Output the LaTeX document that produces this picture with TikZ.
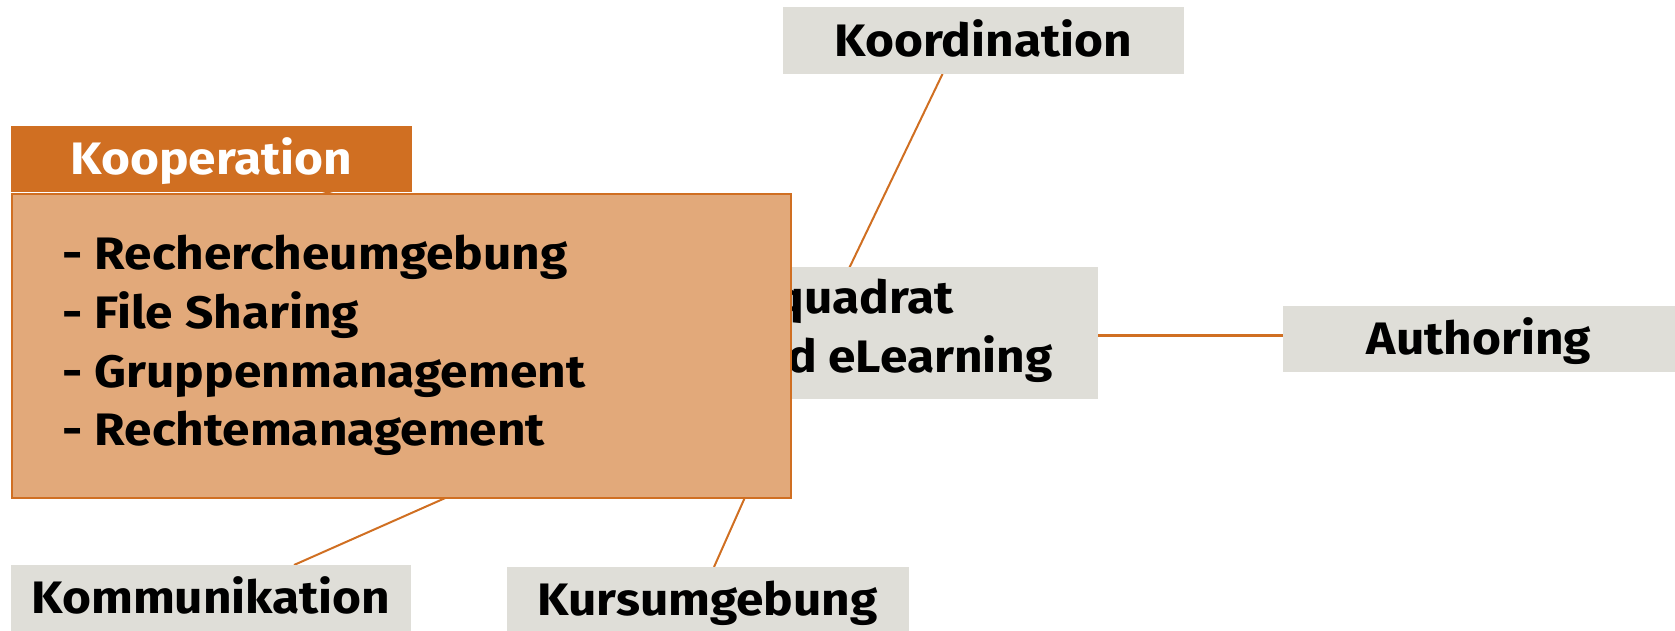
\documentclass[tikz,border=0pt]{standalone}
\usepackage{fontspec}
\setmainfont{Fira Sans}[FakeStretch=1.09]
\usetikzlibrary{calc}
\definecolor{orangeD}{HTML}{D06F22}
\definecolor{orangeL}{HTML}{E2A97A}
\definecolor{greyB}{HTML}{DFDED8}
\tikzset{
  every node/.style={font=\bfseries\fontsize{45.5}{54}\selectfont, inner sep=0pt, outer sep=0pt},
  gbox/.style={fill=greyB, text height=31.5pt, text depth=0pt, align=center},
  conn/.style={draw=orangeD, line width=2pt},
  item/.style={anchor=base west, text=black},
}
\begin{document}
\begin{tikzpicture}[x=1pt,y=-1pt]
\useasboundingbox (0,0) rectangle (1675,631);
% node positions (boxes drawn later on top of connectors)
\path (818,333) coordinate (cc);
\path (983.5,40.5) coordinate (kc);
% connectors first
\coordinate (kt) at (942.5,74);
\coordinate (mt) at (294,565);
\coordinate (ut) at (714,567);
\draw[conn] (cc) -- (kt);
\draw[conn] (cc) -- (mt);
\draw[conn] (cc) -- (ut);
\draw[conn] (cc) -- (211.5,159.25);
\draw[conn, line width=3pt] (818,335.5) -- (1283,335.5);
% center box (partly hidden)
\node[gbox, minimum width=560pt, minimum height=132pt] (c) at (cc) {};
\node[anchor=base east] (c1) at (954,313) {quadrat};
\node[anchor=base east] (c2) at (1052.6,372.5) {d eLearning};
% outer boxes
\node[gbox, minimum width=401pt, minimum height=67pt] (koord) at (kc) {Koordination};
\node[gbox, minimum width=392pt, minimum height=66pt] (auth) at (1479,339) {Authoring};
\node[gbox, minimum width=400pt, minimum height=66pt] (komm) at (211,598) {Kommunikation};
\node[gbox, minimum width=402.5pt, minimum height=66pt] (kurs) at (707.75,600) {Kursumgebung};
% big orange box and header
\node[fill=orangeL, draw=orangeD, line width=2pt, minimum width=779pt, minimum height=304pt] (big) at (401.5,346) {};
\node[fill=orangeD, text=white, text height=31.5pt, text depth=0pt, minimum width=401pt, minimum height=66.5pt] (koop) at (211.5,159.25) {Kooperation};
\node[item] (l1) at (62.8,269) {- Rechercheumgebung};
\node[item] (l2) at (62.8,328) {- File Sharing};
\node[item] (l3) at (62.8,387) {- Gruppenmanagement};
\node[item] (l4) at (62.8,445) {- Rechtemanagement};
\end{tikzpicture}
\end{document}
